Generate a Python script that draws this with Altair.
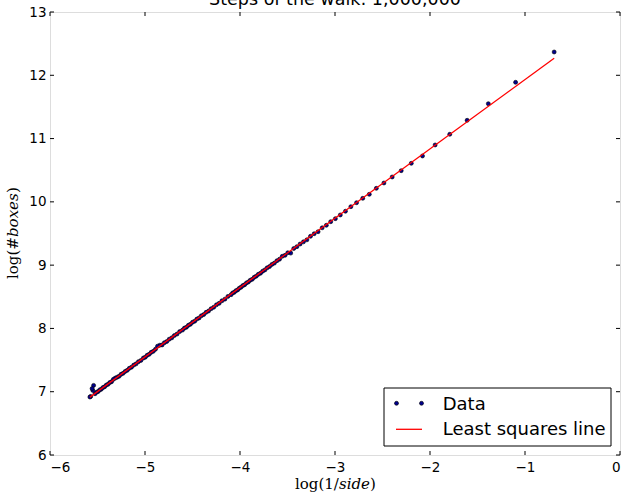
import altair as alt
import pandas as pd

# ---- data ----
log_inv_side = [-0.693, -1.099, -1.386, -1.609, -1.792, -1.946, -2.079, -2.197, -2.303, -2.398,
                -2.485, -2.565, -2.639, -2.708, -2.773, -2.833, -2.890, -2.944, -2.996, -3.045,
                -3.091, -3.135, -3.178, -3.219, -3.258, -3.296, -3.332, -3.367, -3.401, -3.434,
                -3.466, -3.497, -3.526, -3.555, -3.584, -3.611, -3.638, -3.664, -3.689,
                -3.714, -3.738, -3.761, -3.784, -3.807, -3.829, -3.850, -3.871, -3.892, -3.912,
                -3.932, -3.951, -3.970, -3.989, -4.007, -4.025, -4.043, -4.060, -4.078, -4.094,
                -4.127, -4.159, -4.190, -4.220, -4.248, -4.277, -4.304, -4.331, -4.357, -4.382,
                -4.407, -4.431, -4.454, -4.477, -4.500, -4.522, -4.543, -4.564, -4.585, -4.605,
                -4.635, -4.663, -4.691, -4.718, -4.745, -4.771, -4.796, -4.820, -4.844, -4.868,
                -4.890, -4.913, -4.935, -4.956, -4.977, -4.997, -5.017,
                -5.043, -5.069, -5.094, -5.118, -5.142, -5.165, -5.187, -5.209, -5.231, -5.252,
                -5.273, -5.293, -5.313, -5.333, -5.352, -5.371, -5.389, -5.407, -5.425, -5.442,
                -5.460, -5.477, -5.493, -5.509, -5.526, -5.541,
                -5.549, -5.557, -5.572, -5.580]
log_boxes = [12.368, 11.889, 11.551, 11.289, 11.068, 10.899, 10.725, 10.609, 10.493, 10.393,
             10.298, 10.214, 10.119, 10.056, 9.987, 9.924, 9.852, 9.793, 9.735, 9.687,
             9.630, 9.590, 9.528, 9.497, 9.456, 9.400, 9.368, 9.334, 9.292, 9.263,
             9.190, 9.196, 9.155, 9.140, 9.094, 9.070, 9.032, 9.012, 8.978,
             8.958, 8.925, 8.905, 8.873, 8.855, 8.826, 8.809, 8.777, 8.762, 8.734,
             8.719, 8.690, 8.677, 8.651, 8.636, 8.609, 8.597, 8.571, 8.560, 8.533,
             8.506, 8.463, 8.437, 8.396, 8.373, 8.334, 8.312, 8.275, 8.254, 8.219,
             8.200, 8.165, 8.148, 8.114, 8.098, 8.066, 8.050, 8.019, 8.005, 7.974,
             7.950, 7.911, 7.888, 7.851, 7.830, 7.793, 7.774, 7.739, 7.735, 7.720,
             7.671, 7.638, 7.622, 7.591, 7.576, 7.546, 7.532,
             7.495, 7.475, 7.440, 7.421, 7.388, 7.370, 7.338, 7.321, 7.290, 7.275,
             7.244, 7.230, 7.215, 7.195, 7.158, 7.145, 7.117, 7.105, 7.078, 7.067,
             7.040, 7.029, 7.003, 6.993, 6.968, 7.100,
             7.020, 7.050, 6.925, 6.916]
x_ticks = [-6, -5, -4, -3, -2, -1, 0]
y_ticks = [6, 7, 8, 9, 10, 11, 12, 13]
title_text = "Steps of the walk: 1,000,000"
legend_labels = ["Data", "Least squares line"]

W, H = 570, 443

df = pd.DataFrame({"x": log_inv_side, "y": log_boxes})
xt = pd.DataFrame({"v": x_ticks})
yt = pd.DataFrame({"v": y_ticks})
one = pd.DataFrame({"a": [0]})

xs = alt.Scale(domain=[-6, 0], nice=False, zero=False)
ys = alt.Scale(domain=[6, 13], nice=False, zero=False)

xaxis = alt.Axis(values=x_ticks, format="d", ticks=False, domain=False, grid=False,
                 labelFont="DejaVu Sans", labelFontSize=13.5, labelColor="black",
                 labelPadding=5, title=None)
yaxis = alt.Axis(values=y_ticks, format="d", ticks=False, domain=False, grid=False,
                 labelFont="DejaVu Sans", labelFontSize=13.5, labelColor="black",
                 labelPadding=4, title=None)


def X(f):
    return alt.X(f, scale=xs, axis=xaxis)


def Y(f):
    return alt.Y(f, scale=ys, axis=yaxis)


DOT = "#00008c"

points = alt.Chart(df).mark_circle(size=16, color=DOT, stroke="black",
                                   strokeWidth=0.6, opacity=1).encode(x=X("x:Q"), y=Y("y:Q"))

fit = alt.Chart(df).transform_regression("x", "y").mark_line(
    color="red", strokeWidth=1.3).encode(x=X("x:Q"), y=Y("y:Q"))

tick_b = alt.Chart(xt).mark_rule(color="black", strokeWidth=1).encode(
    x=X("v:Q"), y=alt.value(H), y2=alt.value(H - 4))
tick_t = alt.Chart(xt).mark_rule(color="black", strokeWidth=1).encode(
    x=X("v:Q"), y=alt.value(0), y2=alt.value(4))
tick_l = alt.Chart(yt).mark_rule(color="black", strokeWidth=1).encode(
    y=Y("v:Q"), x=alt.value(0), x2=alt.value(4))
tick_r = alt.Chart(yt).mark_rule(color="black", strokeWidth=1).encode(
    y=Y("v:Q"), x=alt.value(W), x2=alt.value(W - 4))

base = alt.Chart(one)

leg_box = base.mark_rect(fill="white", stroke="black", strokeWidth=1).encode(
    x=alt.value(334), x2=alt.value(561), y=alt.value(376), y2=alt.value(434))
leg_dot1 = base.mark_circle(size=16, color=DOT, stroke="black", strokeWidth=0.6,
                            opacity=1).encode(x=alt.value(346.5), y=alt.value(391.3))
leg_dot2 = base.mark_circle(size=16, color=DOT, stroke="black", strokeWidth=0.6,
                            opacity=1).encode(x=alt.value(371.5), y=alt.value(391.3))
leg_line = base.mark_rule(color="red", strokeWidth=1.3).encode(
    x=alt.value(346), x2=alt.value(372), y=alt.value(417.3))
leg_t1 = base.mark_text(align="left", baseline="alphabetic", font="DejaVu Sans",
                        fontSize=18, color="black").encode(
    x=alt.value(392.7), y=alt.value(397.5), text=alt.value(legend_labels[0]))
leg_t2 = base.mark_text(align="left", baseline="alphabetic", font="DejaVu Sans",
                        fontSize=18, color="black").encode(
    x=alt.value(392.7), y=alt.value(423), text=alt.value(legend_labels[1]))

title = base.mark_text(align="center", baseline="alphabetic", font="DejaVu Sans",
                       fontSize=17.5, color="black").encode(
    x=alt.value(W / 2), y=alt.value(-7), text=alt.value(title_text))

serif = "DejaVu Serif"
xl1 = base.mark_text(align="left", baseline="alphabetic", font=serif, fontSize=15,
                     color="black").encode(x=alt.value(245), y=alt.value(477),
                                           text=alt.value("log(1/"))
xl2 = base.mark_text(align="left", baseline="alphabetic", font=serif, fontSize=15,
                     fontStyle="italic", color="black").encode(
    x=alt.value(289), y=alt.value(477), text=alt.value("side"))
xl3 = base.mark_text(align="left", baseline="alphabetic", font=serif, fontSize=15,
                     color="black").encode(x=alt.value(320), y=alt.value(477),
                                           text=alt.value(")"))

yl1 = base.mark_text(align="left", baseline="middle", angle=270, font=serif, fontSize=15,
                     color="black").encode(x=alt.value(-37), y=alt.value(267),
                                           text=alt.value("log(#"))
yl2 = base.mark_text(align="left", baseline="middle", angle=270, font=serif, fontSize=15,
                     fontStyle="italic", color="black").encode(
    x=alt.value(-37), y=alt.value(225), text=alt.value("boxes"))
yl3 = base.mark_text(align="left", baseline="middle", angle=270, font=serif, fontSize=15,
                     color="black").encode(x=alt.value(-37), y=alt.value(181),
                                           text=alt.value(")"))

chart = alt.layer(points, fit, tick_b, tick_t, tick_l, tick_r,
                  leg_box, leg_dot1, leg_dot2, leg_line, leg_t1, leg_t2,
                  title, xl1, xl2, xl3, yl1, yl2, yl3).properties(
    width=W, height=H,
    autosize=alt.AutoSizeParams(type="none"),
    padding={"left": 50, "top": 12, "right": 6, "bottom": 37},
).configure_view(stroke="black", strokeWidth=1).configure(background="white")

chart.save("out.html", embed_options={"renderer": "svg", "actions": False})
